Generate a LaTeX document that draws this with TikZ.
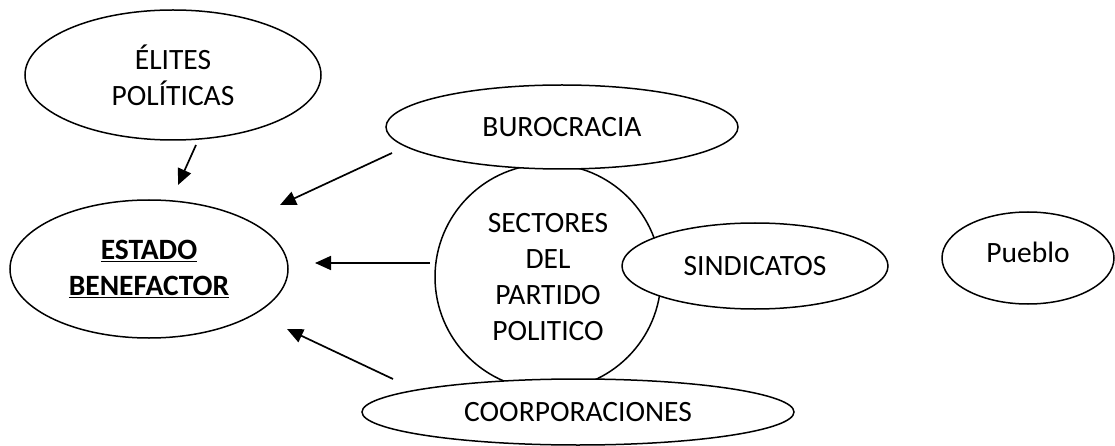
\documentclass[tikz,border=0pt]{standalone}
\usepackage{fontspec}
\setmainfont{Carlito}
\usetikzlibrary{shapes.geometric,arrows.meta}
\begin{document}
\begin{tikzpicture}[x=1pt,y=-1pt,
  every node/.style={font=\fontsize{29.5}{36}\selectfont, align=center},
  oval/.style={ellipse, draw, line width=1.5pt, fill=white, inner sep=0pt},
  arr/.style={line width=1.7pt, -{Triangle[length=16pt,width=14pt]}}]
\useasboundingbox (0,0) rectangle (1115,446);
\node[oval, minimum width=296pt, minimum height=130pt] (elites) at (173,75) {ÉLITES\\POLÍTICAS};
\node[oval, minimum width=278pt, minimum height=138pt] (estado) at (149,269) {\textbf{\underline{ESTADO}}\\\textbf{\underline{BENEFACTOR}}};
\node[circle, draw, line width=1.5pt, minimum size=226pt, inner sep=0pt] (partido) at (548,277) {SECTORES\\DEL\\PARTIDO\\POLITICO};
\node[oval, minimum width=352pt, minimum height=84pt] (buro) at (562,127) {BUROCRACIA};
\node[oval, minimum width=266pt, minimum height=86pt] (sind) at (755,266) {SINDICATOS};
\node[oval, minimum width=432pt, minimum height=66pt] (coorp) at (578,412) {COORPORACIONES};
\node[oval, minimum width=172pt, minimum height=92pt] (pueblo) at (1028,258) {};
\node (pueblotxt) at (1028,252) {Pueblo};
\coordinate (e1) at (196,145);
\coordinate (e2) at (178,185);
\coordinate (b1) at (392,153);
\coordinate (b2) at (280,205);
\coordinate (m1) at (430,263);
\coordinate (m2) at (315,263);
\coordinate (c1) at (393,379);
\coordinate (c2) at (287,329);
\draw[arr] (e1) -- (e2);
\draw[arr] (b1) -- (b2);
\draw[arr] (m1) -- (m2);
\draw[arr] (c1) -- (c2);
\end{tikzpicture}
\end{document}
